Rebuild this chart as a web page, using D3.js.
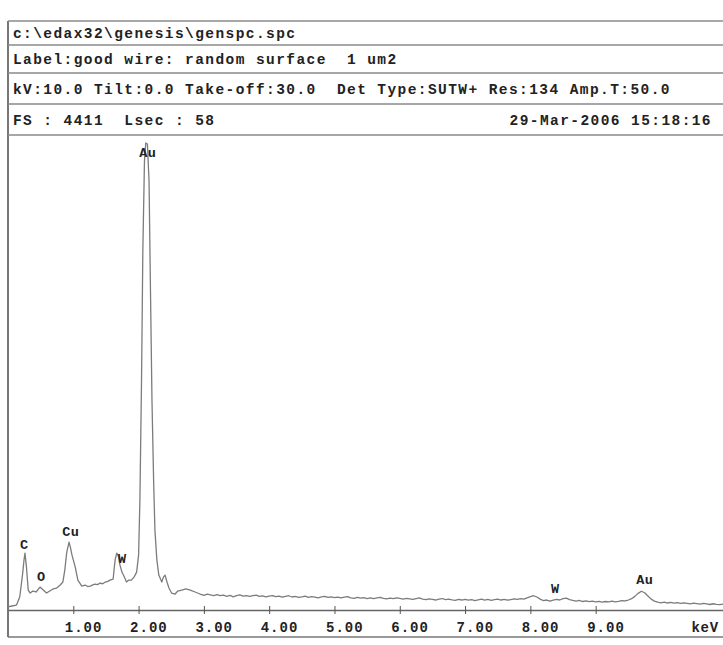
<!DOCTYPE html>
<html>
<head>
<meta charset="utf-8">
<script src="https://cdn.jsdelivr.net/npm/d3@7"></script>
<style>
  html, body { margin: 0; padding: 0; background: #fff; }
  svg text { font-family: "Liberation Mono", "DejaVu Sans Mono", monospace; font-weight: bold; fill: #222; white-space: pre; }
</style>
</head>
<body>
<svg id="chart" width="723" height="645"></svg>
<script>
// Header lines of the EDAX report
const headerRows = [
  "c:\\edax32\\genesis\\genspc.spc",
  "Label:good wire: random surface  1 um2",
  "kV:10.0 Tilt:0.0 Take-off:30.0  Det Type:SUTW+ Res:134 Amp.T:50.0",
  "FS : 4411  Lsec : 58"
];
const acquiredAt = "29-Mar-2006 15:18:16";
const fullScale = 4411;

// Energy axis ticks (keV)
const tickValues = [1, 2, 3, 4, 5, 6, 7, 8, 9];
const tickLabels = ["1.00", "2.00", "3.00", "4.00", "5.00", "6.00", "7.00", "8.00", "9.00"];

// Spectrum: [energy keV, counts]
const spectrum = [
  [0.00,19],[0.06,28],[0.13,37],[0.18,112],[0.225,336],[0.245,457],[0.26,522],[0.28,410],
  [0.31,177],[0.34,149],[0.38,168],[0.43,159],[0.49,205],[0.54,177],[0.59,149],[0.64,168],
  [0.69,187],[0.745,196],[0.80,224],[0.84,252],[0.87,364],[0.90,532],[0.935,625],[0.955,578],
  [0.98,504],[1.03,392],[1.07,270],[1.13,214],[1.18,224],[1.22,210],[1.26,214],[1.30,226],
  [1.33,233],[1.37,228],[1.41,242],[1.45,236],[1.49,252],[1.53,258],[1.56,270],[1.61,280],
  [1.64,457],[1.665,522],[1.69,494],[1.715,410],[1.745,345],[1.775,308],[1.815,252],[1.85,270],
  [1.89,270],[1.93,298],[1.97,345],[2.00,504],[2.02,1016],[2.045,2136],[2.065,3348],[2.09,4187],
  [2.11,4355],[2.135,4346],[2.16,4001],[2.18,3068],[2.205,1949],[2.23,1203],[2.25,737],[2.28,457],
  [2.31,317],[2.355,252],[2.38,298],[2.405,317],[2.435,252],[2.465,196],[2.505,149],[2.56,140],
  [2.60,168],[2.66,177],[2.725,187],[2.79,177],[2.865,159],[2.94,140],[3.00,128],[3.05,138],
  [3.10,132],[3.15,126],[3.20,134],[3.25,124],[3.30,130],[3.35,119],[3.40,127],[3.45,114],
  [3.50,124],[3.55,131],[3.60,120],[3.65,126],[3.70,117],[3.75,124],[3.80,129],[3.85,118],
  [3.90,122],[3.95,113],[4.00,121],[4.05,126],[4.10,115],[4.15,120],[4.20,110],[4.25,118],
  [4.30,124],[4.35,112],[4.40,117],[4.45,108],[4.50,114],[4.55,121],[4.60,109],[4.65,116],
  [4.70,111],[4.75,104],[4.80,113],[4.85,119],[4.90,108],[4.95,114],[5.00,106],[5.05,112],
  [5.10,103],[5.15,110],[5.20,116],[5.25,105],[5.30,99],[5.35,108],[5.40,101],[5.45,107],
  [5.50,98],[5.55,104],[5.60,96],[5.65,103],[5.70,109],[5.75,99],[5.80,94],[5.85,102],
  [5.90,97],[5.95,104],[6.00,99],[6.05,92],[6.10,100],[6.15,95],[6.20,89],[6.25,97],
  [6.30,103],[6.35,93],[6.40,88],[6.45,95],[6.50,90],[6.55,84],[6.60,92],[6.65,98],
  [6.70,87],[6.75,93],[6.80,86],[6.85,80],[6.90,89],[6.95,84],[7.00,91],[7.05,82],
  [7.10,88],[7.15,79],[7.20,86],[7.25,92],[7.30,83],[7.35,89],[7.40,80],[7.45,87],
  [7.50,93],[7.55,84],[7.60,90],[7.65,82],[7.70,88],[7.75,94],[7.80,89],[7.85,96],
  [7.90,92],[7.95,104],[8.00,116],[8.05,124],[8.10,112],[8.15,92],[8.20,78],[8.25,84],
  [8.30,74],[8.35,82],[8.40,90],[8.45,84],[8.50,96],[8.55,102],[8.60,88],[8.65,80],
  [8.70,74],[8.75,80],[8.80,70],[8.85,76],[8.90,68],[8.95,74],[9.00,66],[9.05,72],
  [9.10,64],[9.15,70],[9.20,66],[9.25,73],[9.30,67],[9.35,72],[9.40,78],[9.45,75],
  [9.50,84],[9.55,96],[9.60,118],[9.65,146],[9.70,166],[9.75,152],[9.80,122],[9.85,92],
  [9.90,74],[9.95,64],[10.00,58],[10.05,64],[10.10,56],[10.15,61],[10.20,54],[10.25,60],
  [10.30,52],[10.35,58],[10.40,53],[10.45,48],[10.50,55],[10.55,50],[10.60,45],[10.65,52],
  [10.70,47],[10.75,42],[10.80,49],[10.85,44],[10.90,40],[10.95,46]
];

// Element identifications: [symbol, energy keV, label height in counts]
const peakLabels = [
  ["C", 0.25, 565],
  ["O", 0.51, 262],
  ["Cu", 0.96, 680],
  ["W", 1.75, 430],
  ["Au", 2.14, 4220],
  ["W", 8.38, 150],
  ["Au", 9.75, 235]
];

const svg = d3.select("#chart");
const frame = { left: 8, right: 723, top: 21, bottom: 637 };
const rowLines = [45, 73, 104, 135];
const plot = { top: 137, axisY: 610 };

const x = d3.scaleLinear().domain([0, 10.95]).range([frame.left, frame.right]);
const y = d3.scaleLinear().domain([0, fullScale]).range([609, plot.top]);

const lineColor = "#8a8a8a";

// Report frame and row separators
svg.append("line")
  .attr("x1", frame.left).attr("x2", frame.left)
  .attr("y1", frame.top).attr("y2", frame.bottom)
  .attr("stroke", "#777").attr("stroke-width", 2);
[frame.top, ...rowLines].forEach(yy => {
  svg.append("line")
    .attr("x1", frame.left).attr("x2", frame.right)
    .attr("y1", yy).attr("y2", yy)
    .attr("stroke", lineColor).attr("stroke-width", 1.6);
});
svg.append("line")
  .attr("x1", frame.left).attr("x2", frame.right)
  .attr("y1", frame.bottom).attr("y2", frame.bottom)
  .attr("stroke", "#777").attr("stroke-width", 1.6);

// Header text
const baselines = [38, 64, 94, 125];
headerRows.forEach((t, i) => {
  svg.append("text")
    .attr("x", 13).attr("y", baselines[i])
    .attr("xml:space", "preserve")
    .attr("font-size", 14.5).attr("letter-spacing", 1.42)
    .text(t);
});
svg.append("text")
  .attr("x", 712).attr("y", baselines[3])
  .attr("text-anchor", "end")
  .attr("font-size", 14.5).attr("letter-spacing", 1.42)
  .text(acquiredAt);

// Energy axis
const axis = d3.axisBottom(x).tickValues(tickValues).tickSize(0).tickFormat("");
const axisG = svg.append("g").attr("transform", `translate(0,${plot.axisY})`).call(axis);
axisG.select(".domain").attr("stroke", "#666").attr("stroke-width", 1.6);
axisG.selectAll(".tick").append("line")
  .attr("y1", -4).attr("y2", 4).attr("stroke", "#555").attr("stroke-width", 1);
axisG.selectAll(".tick").append("text")
  .attr("x", -9).attr("y", 22)
  .attr("font-size", 14).attr("letter-spacing", 1.0)
  .attr("text-anchor", "start")
  .text((d, i) => tickLabels[i]);
svg.append("text")
  .attr("x", 719).attr("y", plot.axisY + 22)
  .attr("text-anchor", "end")
  .attr("font-size", 14).attr("letter-spacing", 0.8)
  .text("keV");

// Spectrum trace
const line = d3.line().x(d => x(d[0])).y(d => y(d[1]));
svg.append("path")
  .datum(spectrum)
  .attr("d", line)
  .attr("fill", "none")
  .attr("stroke", "#7c7c7c")
  .attr("stroke-width", 1.3)
  .attr("stroke-linejoin", "round");

// Peak labels
svg.selectAll(".peak")
  .data(peakLabels)
  .join("text")
  .attr("class", "peak")
  .attr("x", d => x(d[1]))
  .attr("y", d => y(d[2]))
  .attr("text-anchor", "middle")
  .attr("font-size", 13.5).attr("letter-spacing", 0.4)
  .text(d => d[0]);
</script>
</body>
</html>
